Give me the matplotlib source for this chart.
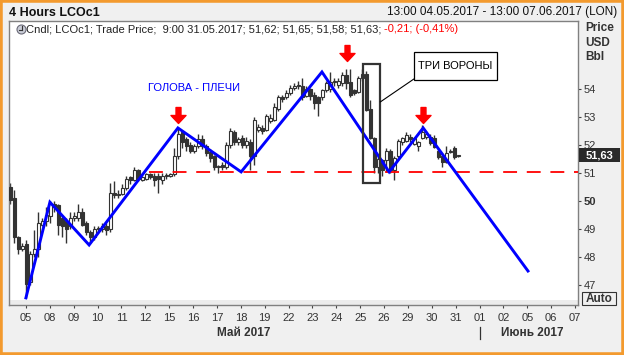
import matplotlib.pyplot as plt
from matplotlib.patches import Rectangle, Ellipse
from matplotlib.path import Path
from matplotlib.lines import Line2D
import matplotlib.transforms as mtransforms

plt.rcParams['font.family'] = ['Liberation Sans', 'DejaVu Sans']
plt.rcParams['lines.scale_dashes'] = False

# 4h candles LCOc1, 04.05.2017 13:00 .. 31.05.2017 09:00
opens = [50.5, 50.1, 48.7, 48.3, 48.45, 47.1, 48.1, 48.3, 49.15, 49.3,
         49.45, 49.9, 49.85, 49.4, 49.3, 49.1, 49.4, 49.4, 49.6, 49.2,
         48.9, 48.7, 49.0, 49.0, 49.1, 49.0, 50.3, 50.2, 50.25, 50.45,
         50.85, 50.75, 51.1, 50.75, 50.8, 50.95, 50.9, 50.9, 50.75, 50.9,
         50.9, 50.95, 51.6, 52.45, 52.2, 52.0, 51.8, 51.95, 52.2, 51.95,
         51.75, 51.6, 51.2, 51.3, 51.2, 52.0, 52.45, 52.1, 52.25, 52.0,
         52.1, 51.6, 52.55, 52.6, 52.55, 52.85, 52.9, 53.3, 53.7, 53.7,
         53.85, 54.05, 54.1, 54.1, 53.75, 54.0, 53.8, 53.7, 53.7, 53.95,
         54.0, 54.25, 54.15, 54.2, 54.5, 54.25, 53.95, 53.9, 54.4, 54.55,
         53.3, 52.25, 51.2, 51.45, 51.45, 51.8, 51.1, 51.6, 52.1, 52.15,
         52.3, 52.05, 51.95, 52.25, 52.3, 52.3, 52.25, 51.8, 51.6, 51.4,
         51.75, 51.9, 51.62]
highs = [50.65, 50.4, 48.75, 48.5, 48.6, 48.2, 48.95, 49.6, 49.4, 49.8,
         50.0, 50.0, 49.9, 49.5, 49.4, 49.6, 49.6, 49.9, 49.75, 49.3,
         48.95, 49.1, 49.1, 49.2, 49.2, 50.65, 50.7, 50.4, 50.6, 50.9,
         50.9, 51.2, 51.15, 50.9, 51.0, 51.0, 51.0, 51.0, 51.0, 51.0,
         51.0, 51.9, 52.6, 52.55, 52.3, 52.1, 52.05, 52.4, 52.35, 52.05,
         51.85, 51.65, 51.3, 51.4, 52.1, 52.6, 52.55, 52.3, 52.35, 52.3,
         52.2, 53.0, 52.75, 52.7, 53.1, 53.1, 53.5, 53.8, 53.8, 53.95,
         54.15, 54.2, 54.3, 54.4, 54.1, 54.05, 53.9, 53.75, 54.0, 54.3,
         54.6, 54.4, 54.4, 54.6, 54.7, 54.7, 54.0, 54.45, 54.7, 54.65,
         53.6, 52.3, 51.6, 51.5, 51.9, 51.85, 51.6, 52.2, 52.3, 52.45,
         52.4, 52.3, 52.15, 52.7, 52.5, 52.4, 52.35, 51.9, 51.7, 51.95,
         51.85, 51.95, 51.65]
lows = [49.9, 48.5, 48.1, 48.2, 46.55, 47.0, 48.0, 48.0, 49.1, 49.1,
        49.2, 49.6, 48.8, 48.7, 48.5, 49.0, 49.3, 49.3, 49.1, 48.8,
        48.5, 48.6, 48.9, 48.9, 48.8, 48.9, 50.1, 50.1, 50.2, 50.4,
        50.6, 50.7, 50.7, 50.7, 50.75, 50.8, 50.55, 50.3, 50.6, 50.8,
        50.85, 50.9, 51.5, 51.9, 51.8, 51.7, 51.7, 51.9, 51.85, 51.6,
        51.4, 51.1, 51.0, 51.1, 51.15, 51.9, 52.0, 52.0, 51.9, 51.9,
        51.1, 51.3, 52.45, 52.4, 52.5, 52.8, 52.85, 53.2, 53.55, 53.65,
        53.8, 53.95, 54.0, 53.6, 53.7, 53.6, 53.3, 53.05, 53.6, 53.9,
        53.9, 54.1, 54.05, 54.1, 54.0, 53.7, 53.8, 53.85, 54.3, 53.2,
        52.2, 51.0, 51.0, 50.9, 51.05, 51.0, 50.75, 51.55, 52.0, 52.1,
        52.1, 52.0, 51.8, 52.2, 52.2, 52.0, 51.9, 51.5, 51.2, 51.35,
        51.7, 51.5, 51.58]
closes = [50.05, 48.7, 48.3, 48.4, 47.05, 48.1, 48.3, 49.2, 49.3, 49.5,
          49.9, 49.8, 49.15, 49.1, 49.0, 49.4, 49.45, 49.6, 49.15, 48.9,
          48.7, 49.0, 49.02, 49.1, 48.95, 50.3, 50.2, 50.25, 50.45, 50.8,
          50.75, 51.1, 50.8, 50.85, 50.95, 50.85, 50.75, 50.8, 50.9, 50.92,
          50.95, 51.6, 52.4, 52.1, 51.95, 51.8, 51.95, 52.2, 51.95, 51.7,
          51.55, 51.2, 51.25, 51.2, 52.0, 52.5, 52.1, 52.2, 52.0, 52.15,
          51.6, 52.9, 52.65, 52.5, 53.05, 52.95, 53.35, 53.7, 53.65, 53.85,
          54.05, 54.1, 54.15, 53.7, 54.0, 53.75, 53.5, 53.5, 53.95, 54.2,
          54.25, 54.3, 54.3, 54.5, 54.2, 53.8, 53.85, 54.4, 54.55, 53.25,
          52.25, 51.2, 51.5, 51.1, 51.8, 51.1, 51.55, 52.15, 52.25, 52.35,
          52.2, 52.25, 52.1, 52.45, 52.4, 52.07, 51.93, 51.57, 51.4, 51.7,
          51.8, 51.57, 51.63]

# hand drawn pattern (candle index, price)
zig_x = [3.9, 9.9, 19.7, 41.9, 57.7, 77.9, 94.7, 103.2, 129.4]
zig_y = [46.54, 49.96, 48.43, 52.61, 51.04, 54.61, 51.04, 52.61, 47.5]
neck_level = 51.03
neck_start = 34.7
arrow_x = [41.9, 84.2, 103.2]
arrow_tip = [52.79, 55.0, 52.79]
crows_x = [88.2, 92.4]
crows_y = [50.64, 54.89]

day_labels = ['05', '08', '09', '10', '11', '12', '15', '16', '17', '18', '19', '22',
              '23', '24', '25', '26', '29', '30', '31', '01', '02', '05', '06', '07']
y_ticks = [47, 48, 49, 50, 51, 52, 53, 54]
last_price = 51.63

W, H = 624, 355
fig = plt.figure(figsize=(W / 100, H / 100), dpi=100, facecolor='#f0f0f0')
ax = fig.add_axes([9 / W, 1 - 305 / H, 569 / W, 284 / H])
ax.set_facecolor('white')
ax.set_xlim(-0.325, 141.9)
ax.set_ylim(46.286, 56.43)

# candles
dark = '#333333'
x = list(range(len(opens)))
ax.vlines(x, lows, highs, color=dark, lw=1, zorder=2)
bottoms = [min(o, c) for o, c in zip(opens, closes)]
heights = [max(abs(c - o), 0.03) for o, c in zip(opens, closes)]
fills = ['white' if c >= o else dark for o, c in zip(opens, closes)]
ax.bar(x, heights, bottom=bottoms, width=0.62, color=fills, edgecolor=dark, lw=0.8, zorder=3)

# neckline + zigzag
ax.plot([neck_start, 141.9], [neck_level, neck_level], color='#ff0000', lw=1.3,
        dashes=(10, 7), zorder=4)
ax.plot(zig_x, zig_y, color='#0000ff', lw=2.1, zorder=5, solid_joinstyle='miter')

# red arrows
arrow = Path([(-0.31, 1), (0.31, 1), (0.31, 0), (0.94, 0), (0, -1), (-0.94, 0),
              (-0.31, 0), (-0.31, 1)], closed=True)
tr = mtransforms.offset_copy(ax.transData, fig=fig, y=8, units='dots')
for ax_, ay in zip(arrow_x, arrow_tip):
    ax.plot(ax_, ay, marker=arrow, ms=11.5, color='#ff0000', mec='#ff0000', transform=tr,
            zorder=6, clip_on=False)

# three crows box and callout
ax.add_patch(Rectangle((crows_x[0], crows_y[0]), crows_x[1] - crows_x[0], crows_y[1] - crows_y[0],
                       fill=False, ec=dark, lw=1.6, zorder=6))
ax.add_patch(Rectangle((100.9, 54.32), 20.8, 1.0, fc='white', ec='black', lw=0.9, zorder=6))
ax.text(111.3, 54.82, 'ТРИ ВОРОНЫ', ha='center', va='center', fontsize=8, color='black', zorder=7)
ax.plot([100.9, 92.5], [54.36, 53.54], color='black', lw=0.8, zorder=6)
ax.text(45.9, 54.04, 'ГОЛОВА - ПЛЕЧИ', ha='center', va='center', fontsize=8, color='#0000ff')

# bottom strip
ax.add_patch(Rectangle((0, 0), 1, 5 / 284, transform=ax.transAxes, fc='#ececec', ec='none', zorder=1))

# axes styling
for s in ax.spines.values():
    s.set_color('#808080')
    s.set_linewidth(1)
ax.yaxis.tick_right()
ax.set_yticks(y_ticks)
ax.set_yticklabels([str(v) for v in y_ticks])
for lab in ax.get_yticklabels():
    if lab.get_text() == '50':
        lab.set_fontweight('bold')
ax.tick_params(axis='y', direction='out', length=2.5, width=0.8, color='#444444',
               labelsize=8, labelcolor='#333333', pad=1.5)
ax.set_xticks([3.925 + 5.9675 * k for k in range(len(day_labels))])
ax.set_xticklabels(day_labels)
ax.tick_params(axis='x', direction='out', length=2.5, width=0.8, color='#444444',
               labelsize=8, labelcolor='#333333', pad=3)

# last price box
bt = mtransforms.blended_transform_factory(ax.transAxes, ax.transData)
ax.add_patch(Rectangle((1.002, last_price - 0.25), 41 / 569, 0.5, transform=bt,
                       fc='#2a2a2a', ec='none', clip_on=False, zorder=8))
ax.text(1.002 + 20.5 / 569, last_price, '51,63', transform=bt, ha='center', va='center',
        color='white', fontsize=8, fontweight='bold', zorder=9, clip_on=False)

# header and legend line
fig.text(9 / W, 1 - 12.5 / H, '4 Hours LCOc1', fontsize=9, fontweight='bold', va='center', color='#111111')
fig.text(617 / W, 1 - 12.5 / H, '13:00 04.05.2017 - 13:00 07.06.2017 (LON)', fontsize=8.5,
         ha='right', va='center', color='#111111')
fig.add_artist(Ellipse((21.5 / W, 1 - 29.5 / H), 9 / W, 9 / H, transform=fig.transFigure,
                       fc='#c9ccd6', ec='#6a6a78', lw=0.8))
fig.add_artist(Line2D([21.5 / W, 21.5 / W], [1 - 29.5 / H, 1 - 26 / H], color='#333333', lw=0.8))
fig.add_artist(Line2D([21.5 / W, 18.5 / W], [1 - 29.5 / H, 1 - 29.5 / H], color='#333333', lw=0.8))
t1 = fig.text(26 / W, 1 - 29.5 / H, 'Cndl; LCOc1; Trade Price;  9:00 31.05.2017; 51,62; 51,65; 51,58; 51,63; ',
              fontsize=8, va='center', color='#222222')
fig.canvas.draw()
bb = t1.get_window_extent()
fig.text(bb.x1 / W, 1 - 29.5 / H, '-0,21; (-0,41%)', fontsize=8, va='center', color='#ff0000')

fig.text(585 / W, 1 - 22 / H, 'Price\nUSD\nBbl', fontsize=8.5, fontweight='bold', va='top',
         color='#333333', linespacing=1.3)

# Auto button
fig.add_artist(Rectangle((582 / W, 1 - 305 / H), 34 / W, 13 / H, transform=fig.transFigure,
                         fc='#f0f0f0', ec='#333333', lw=0.8))
fig.text(599 / W, 1 - 298.5 / H, 'Auto', fontsize=8.5, fontweight='bold', ha='center', va='center',
         color='#333333')

# month labels
fig.text(244 / W, 1 - 333 / H, 'Май 2017', fontsize=8.5, fontweight='bold', ha='center', va='center',
         color='#333333')
fig.text(532 / W, 1 - 333 / H, 'Июнь 2017', fontsize=8.5, fontweight='bold', ha='center', va='center',
         color='#333333')
fig.add_artist(Line2D([480 / W, 480 / W], [1 - 327 / H, 1 - 339 / H], color='#333333', lw=0.9))

# orange frame
fig.add_artist(Rectangle((0, 0), 1, 1, transform=fig.transFigure, fill=False, ec='#f39a2e', lw=4))

fig.savefig('out.png', dpi=100, facecolor=fig.get_facecolor())
